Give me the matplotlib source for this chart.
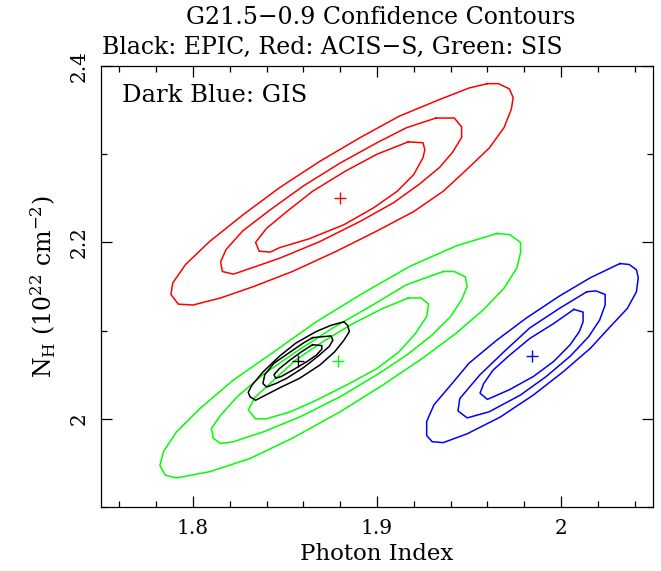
import numpy as np
import matplotlib
matplotlib.use('Agg')
import matplotlib.pyplot as plt
from matplotlib.ticker import MultipleLocator

# confidence contours (outer, middle, inner), photon index vs N_H
# ACIS-S (red)
acis_x = [
    [1.960, 1.966, 1.972, 1.974, 1.973, 1.969, 1.961, 1.950, 1.936, 1.920, 1.900, 1.878,
     1.854, 1.833, 1.815, 1.800, 1.792, 1.788, 1.789, 1.796, 1.809, 1.827, 1.847, 1.869,
     1.891, 1.912, 1.934, 1.950],
    [1.932, 1.942, 1.946, 1.946, 1.941, 1.934, 1.923, 1.909, 1.891, 1.869, 1.847, 1.829,
     1.822, 1.816, 1.815, 1.818, 1.827, 1.842, 1.860, 1.880, 1.900, 1.916],
    [1.917, 1.925, 1.926, 1.925, 1.920, 1.911, 1.898, 1.882, 1.863, 1.847, 1.842, 1.836,
     1.834, 1.840, 1.851, 1.865, 1.883, 1.900],
]
acis_y = [
    [2.380, 2.380, 2.374, 2.364, 2.351, 2.330, 2.307, 2.285, 2.258, 2.235, 2.213, 2.190,
     2.167, 2.150, 2.137, 2.129, 2.130, 2.141, 2.154, 2.175, 2.201, 2.231, 2.262, 2.292,
     2.319, 2.343, 2.362, 2.375],
    [2.341, 2.341, 2.331, 2.319, 2.302, 2.285, 2.266, 2.245, 2.224, 2.201, 2.182, 2.169,
     2.164, 2.167, 2.178, 2.192, 2.213, 2.237, 2.264, 2.290, 2.313, 2.330],
    [2.314, 2.313, 2.305, 2.296, 2.277, 2.258, 2.239, 2.220, 2.204, 2.194, 2.189, 2.190,
     2.200, 2.216, 2.235, 2.258, 2.281, 2.300],
]
acis_best = (1.880, 2.250)

# SIS (green)
sis_x = [
    [1.965, 1.972, 1.978, 1.978, 1.976, 1.969, 1.958, 1.943, 1.925, 1.903, 1.880, 1.854,
     1.831, 1.809, 1.791, 1.785, 1.782, 1.784, 1.791, 1.804, 1.822, 1.844, 1.867, 1.892,
     1.918, 1.943],
    [1.936, 1.942, 1.948, 1.949, 1.946, 1.940, 1.930, 1.916, 1.900, 1.880, 1.858, 1.838,
     1.822, 1.815, 1.811, 1.810, 1.815, 1.824, 1.838, 1.856, 1.876, 1.896, 1.916],
    [1.917, 1.924, 1.928, 1.927, 1.921, 1.912, 1.900, 1.885, 1.867, 1.853, 1.840, 1.834,
     1.830, 1.834, 1.844, 1.856, 1.871, 1.887, 1.903],
]
sis_y = [
    [2.210, 2.209, 2.200, 2.188, 2.171, 2.148, 2.124, 2.097, 2.069, 2.038, 2.008, 1.978,
     1.955, 1.940, 1.933, 1.936, 1.947, 1.963, 1.985, 2.012, 2.044, 2.076, 2.110, 2.142,
     2.173, 2.196],
    [2.167, 2.167, 2.161, 2.150, 2.135, 2.116, 2.095, 2.072, 2.050, 2.025, 2.002, 1.985,
     1.974, 1.972, 1.978, 1.989, 2.004, 2.025, 2.050, 2.076, 2.103, 2.127, 2.152],
    [2.137, 2.137, 2.130, 2.116, 2.097, 2.076, 2.057, 2.040, 2.021, 2.008, 2.000, 2.000,
     2.010, 2.025, 2.044, 2.067, 2.088, 2.108, 2.125],
]
sis_best = (1.879, 2.066)

# EPIC (black)
epic_x = [
    [1.882, 1.884, 1.885, 1.882, 1.877, 1.869, 1.858, 1.847, 1.834, 1.831, 1.830, 1.832,
     1.838, 1.847, 1.856, 1.867, 1.875],
    [1.865, 1.875, 1.876, 1.874, 1.868, 1.860, 1.851, 1.845, 1.840, 1.838, 1.839, 1.844,
     1.853, 1.860],
    [1.865, 1.870, 1.870, 1.867, 1.862, 1.854, 1.848, 1.845, 1.844, 1.847, 1.853, 1.859],
]
epic_y = [
    [2.110, 2.106, 2.099, 2.089, 2.076, 2.061, 2.046, 2.035, 2.021, 2.025, 2.030, 2.038,
     2.053, 2.071, 2.086, 2.099, 2.106],
    [2.092, 2.094, 2.089, 2.082, 2.071, 2.058, 2.046, 2.040, 2.036, 2.040, 2.050, 2.063,
     2.076, 2.086],
    [2.084, 2.083, 2.079, 2.072, 2.065, 2.055, 2.048, 2.046, 2.050, 2.057, 2.067, 2.076],
]
epic_best = (1.857, 2.065)

# GIS (blue)
gis_x = [
    [2.032, 2.037, 2.041, 2.042, 2.041, 2.036, 2.027, 2.016, 2.001, 1.985, 1.967, 1.949,
     1.936, 1.930, 1.927, 1.927, 1.931, 1.940, 1.950, 1.965, 1.981, 1.999, 2.016],
    [2.014, 2.019, 2.024, 2.024, 2.021, 2.015, 2.005, 1.992, 1.978, 1.961, 1.949, 1.944,
     1.945, 1.956, 1.969, 1.983, 1.999],
    [2.007, 2.012, 2.012, 2.010, 2.005, 1.996, 1.985, 1.972, 1.960, 1.956, 1.958, 1.963,
     1.972, 1.983, 1.996],
]
gis_y = [
    [2.176, 2.175, 2.169, 2.160, 2.144, 2.125, 2.105, 2.080, 2.053, 2.027, 2.002, 1.983,
     1.973, 1.974, 1.981, 1.997, 2.016, 2.038, 2.063, 2.089, 2.114, 2.139, 2.160],
    [2.144, 2.145, 2.141, 2.129, 2.112, 2.093, 2.071, 2.048, 2.027, 2.008, 2.001, 2.009,
     2.023, 2.050, 2.076, 2.103, 2.125],
    [2.124, 2.121, 2.110, 2.099, 2.084, 2.065, 2.048, 2.033, 2.022, 2.029, 2.040, 2.055,
     2.072, 2.091, 2.108],
]
gis_best = (1.984, 2.071)

sets = [
    (acis_x, acis_y, acis_best, '#ff0000'),
    (sis_x, sis_y, sis_best, '#00ff00'),
    (gis_x, gis_y, gis_best, '#0000ff'),
    (epic_x, epic_y, epic_best, '#000000'),
]

plt.rcParams['font.family'] = 'DejaVu Serif'
plt.rcParams['mathtext.fontset'] = 'dejavuserif'

fig = plt.figure(figsize=(6.61, 5.71), dpi=100)
ax = fig.add_axes([101 / 661, 1 - 507 / 571, 552 / 661, 441 / 571])

for xs, ys, best, col in sets:
    for cx, cy in zip(xs, ys):
        cx = np.append(cx, cx[0])
        cy = np.append(cy, cy[0])
        ax.plot(cx, cy, color=col, lw=1.1)
    ax.plot(best[0], best[1], marker='+', color=col, ms=8, mew=1.0, ls='none')

ax.set_xlim(1.75, 2.05)
ax.set_ylim(1.9, 2.4)
ax.xaxis.set_major_locator(MultipleLocator(0.1))
ax.xaxis.set_minor_locator(MultipleLocator(0.02))
ax.yaxis.set_major_locator(MultipleLocator(0.2))
ax.yaxis.set_minor_locator(MultipleLocator(0.1))
ax.xaxis.set_major_formatter(plt.FuncFormatter(lambda v, p: ('%g' % round(v, 3))))
ax.yaxis.set_major_formatter(plt.FuncFormatter(lambda v, p: ('%g' % round(v, 3))))
ax.tick_params(which='both', direction='in', top=True, right=True, width=0.9)
ax.tick_params(which='major', length=8, labelsize=14.5)
ax.tick_params(which='minor', length=4)
ax.tick_params(axis='x', pad=9)
ax.tick_params(axis='y', pad=9)
for lab in ax.get_yticklabels():
    lab.set_rotation(90)
    lab.set_va('center')
for sp in ax.spines.values():
    sp.set_linewidth(0.9)

ax.set_xlabel('Photon Index', fontsize=16.5, labelpad=3)
ax.set_ylabel(r'N$_{\rm H}$ (10$^{22}$ cm$^{-2}$)', fontsize=17, labelpad=8)

fig.text(381 / 661, 1 - 17 / 571, 'G21.5\u22120.9 Confidence Contours', ha='center', va='center', fontsize=17)
fig.text(102 / 661, 1 - 47 / 571, 'Black: EPIC, Red: ACIS\u2212S, Green: SIS', ha='left', va='center', fontsize=17)
ax.text(0.038, 0.934, 'Dark Blue: GIS', transform=ax.transAxes, ha='left', va='center', fontsize=17.5)

fig.savefig('out.png', dpi=100)
